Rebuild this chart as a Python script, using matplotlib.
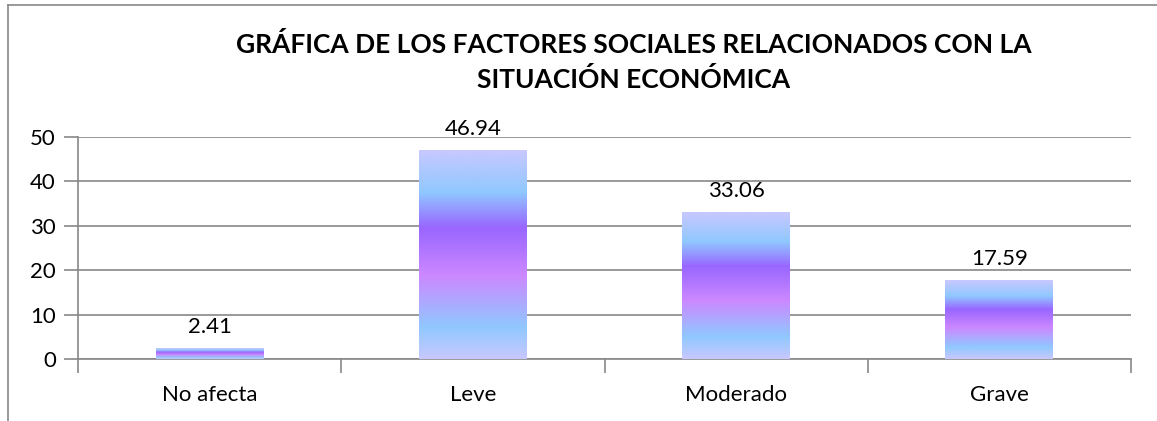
import numpy as np
import matplotlib
matplotlib.use('Agg')
import matplotlib.pyplot as plt
from matplotlib.colors import LinearSegmentedColormap
from matplotlib.lines import Line2D

categories = ['No afecta', 'Leve', 'Moderado', 'Grave']
values     = [2.41, 46.94, 33.06, 17.59]
labels     = ['2.41', '46.94', '33.06', '17.59']
title      = 'GRÁFICA DE LOS FACTORES SOCIALES RELACIONADOS CON LA\nSITUACIÓN ECONÓMICA'

plt.rcParams['font.family'] = ['Lato', 'DejaVu Sans']

W, H = 1157, 421
fig = plt.figure(figsize=(W/100, H/100), dpi=100)
ax = fig.add_axes([78/W, 1-359/H, (1131-78)/W, (359-137)/H])

# bottom -> top of each bar
grad = LinearSegmentedColormap.from_list('bar', [
    (0.00, '#c8c8ff'),
    (0.15, '#90c8ff'),
    (0.40, '#cc88ff'),
    (0.63, '#9966ff'),
    (0.80, '#90c8ff'),
    (1.00, '#c8c8ff'),
])
g = np.linspace(0, 1, 256).reshape(-1, 1)

x = np.arange(len(categories))
bw = 0.41
bars = ax.bar(x, values, width=bw, color='none', zorder=3)
for b, v, lab in zip(bars, values, labels):
    x0 = b.get_x()
    ax.imshow(g, cmap=grad, origin='lower', aspect='auto',
              extent=(x0, x0 + bw, 0, v), zorder=3, interpolation='bilinear')
    ax.text(b.get_x() + bw/2, v + 2.6, lab, ha='center', va='bottom', fontsize=16)

ax.set_xlim(-0.5, len(categories) - 0.5)
ax.set_ylim(0, 50)
ax.set_yticks([0, 10, 20, 30, 40, 50])
ax.yaxis.grid(True, color='#888888', linewidth=1.2, zorder=0)
ax.set_axisbelow(True)

ax.set_xticks(x)
ax.set_xticklabels(categories, fontsize=16)
ax.tick_params(axis='x', length=0, pad=19)
ax.set_xticks(np.arange(-0.5, len(categories)), minor=True)
ax.tick_params(axis='x', which='minor', length=10, color='#888888', width=1.2)
ax.tick_params(axis='y', length=10, color='#888888', width=1.2, labelsize=16, pad=6)

for s in ['top', 'right']:
    ax.spines[s].set_visible(False)
for s in ['left', 'bottom']:
    ax.spines[s].set_color('#888888')
    ax.spines[s].set_linewidth(1.2)

fig.text(634/W, 1-62/H, title, ha='center', va='center', fontsize=19,
         fontweight='bold', linespacing=1.5)

# chart frame (left and top edges visible)
fig.add_artist(Line2D([8/W, 8/W], [0, 1-5/H], transform=fig.transFigure,
                      color='#888888', linewidth=1.2))
fig.add_artist(Line2D([8/W, 1], [1-5/H, 1-5/H], transform=fig.transFigure,
                      color='#888888', linewidth=1.2))

fig.savefig('out.png', dpi=100)
